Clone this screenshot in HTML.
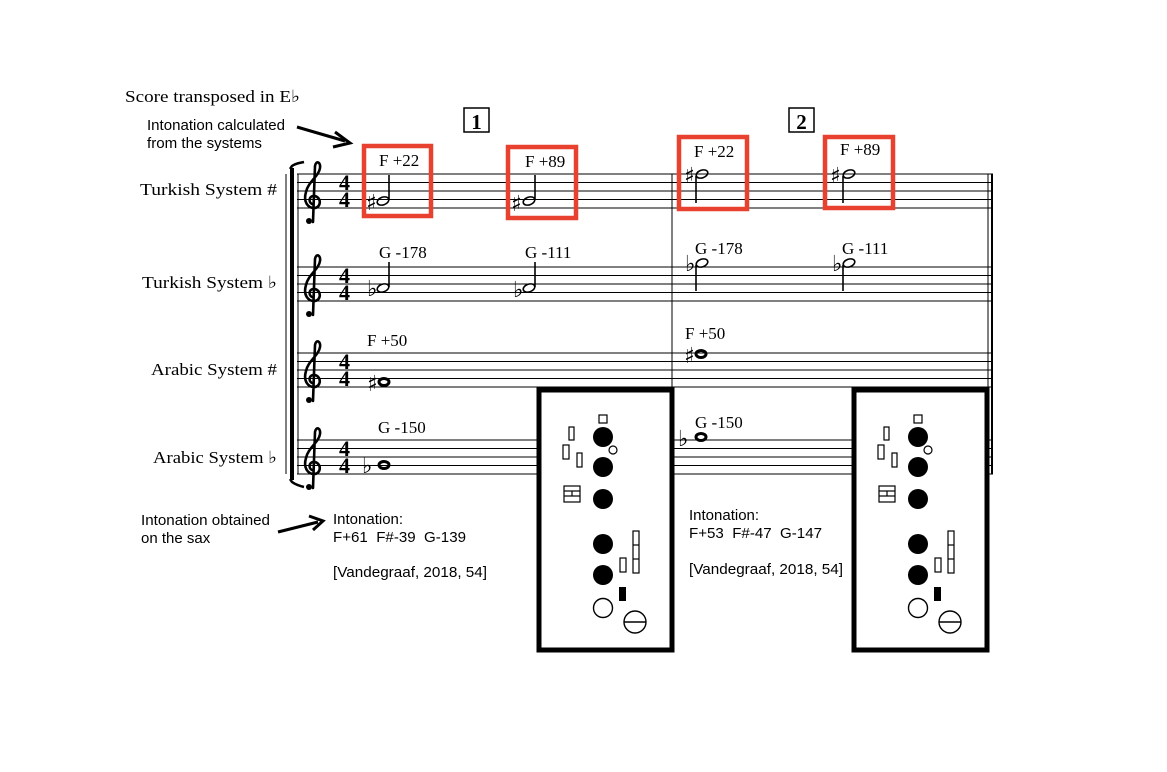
<!DOCTYPE html>
<html><head><meta charset="utf-8"><style>
html,body{margin:0;padding:0;background:#fff;}
svg{display:block;}
.s{font-family:"Liberation Serif",serif;font-size:17px;fill:#000;}
.a{font-family:"Liberation Sans",sans-serif;font-size:15px;fill:#000;white-space:pre;}
</style></head><body>
<svg width="1167" height="772" viewBox="0 0 1167 772" xmlns="http://www.w3.org/2000/svg">
<defs>
<g id="clef" fill="none" stroke="#000" stroke-linecap="round">
  <path d="M13,48 L15,-8 C16,-14 21,-12 20,-6 C19,2 8,8 6,18 C3,28 8,34 14,34 C21,34 22,24 15,22 C9,21 8,28 12,30" stroke-width="2.6"/>
  <circle cx="9" cy="47" r="3" fill="#000" stroke="none"/>
</g>
<g id="ts" font-family="Liberation Serif,serif" font-weight="bold" font-size="22" fill="#000">
  <text x="0" y="16">4</text><text x="0" y="33">4</text>
</g>
<g id="sax">
  <rect x="0" y="0" width="133" height="260" fill="#fff" stroke="#000" stroke-width="5"/>
  <rect x="60" y="25" width="8" height="8" fill="#fff" stroke="#000" stroke-width="1.2"/>
  <rect x="30" y="37" width="5" height="13" fill="#fff" stroke="#000" stroke-width="1.2"/>
  <rect x="24" y="55" width="6" height="14" fill="#fff" stroke="#000" stroke-width="1.2"/>
  <rect x="38" y="63" width="5" height="14" fill="#fff" stroke="#000" stroke-width="1.2"/>
  <circle cx="64" cy="47" r="10"/><circle cx="74" cy="60" r="4" fill="#fff" stroke="#000" stroke-width="1.2"/>
  <circle cx="64" cy="77" r="10"/><circle cx="64" cy="109" r="10"/>
  <circle cx="64" cy="154" r="10"/><circle cx="64" cy="185" r="10"/>
  <circle cx="64" cy="218" r="9.5" fill="#fff" stroke="#000" stroke-width="1.4"/>
  <circle cx="96" cy="232" r="11" fill="#fff" stroke="#000" stroke-width="1.4"/><line x1="85" y1="232" x2="107" y2="232" stroke="#000" stroke-width="1.4"/>
  <rect x="25" y="96" width="16" height="16" fill="#fff" stroke="#000" stroke-width="1.2"/>
  <line x1="25" y1="101" x2="41" y2="101" stroke="#000" stroke-width="1.2"/><line x1="25" y1="106" x2="41" y2="106" stroke="#000" stroke-width="1.2"/><line x1="33" y1="101" x2="33" y2="106" stroke="#000" stroke-width="1.2"/>
  <rect x="94" y="141" width="6" height="42" fill="#fff" stroke="#000" stroke-width="1.2"/>
  <line x1="94" y1="155" x2="100" y2="155" stroke="#000" stroke-width="1.2"/><line x1="94" y1="169" x2="100" y2="169" stroke="#000" stroke-width="1.2"/>
  <rect x="81" y="168" width="6" height="14" fill="#fff" stroke="#000" stroke-width="1.2"/>
  <rect x="80" y="197" width="7" height="14" fill="#000"/>
</g>
</defs>

<text class="s" x="125" y="102" textLength="175" lengthAdjust="spacingAndGlyphs">Score transposed in E♭</text>
<text class="a" x="147" y="130" textLength="138" lengthAdjust="spacingAndGlyphs">Intonation calculated</text>
<text class="a" x="147" y="148" textLength="115" lengthAdjust="spacingAndGlyphs">from the systems</text>
<line x1="297" y1="127" x2="345" y2="141" stroke="#000" stroke-width="3"/>
<path d="M335,132 L350,143 L333,147" fill="none" stroke="#000" stroke-width="3"/>

<rect x="464" y="108" width="25" height="24" fill="#fff" stroke="#000" stroke-width="1.5"/>
<text x="476.5" y="129" text-anchor="middle" font-family="Liberation Serif,serif" font-weight="bold" font-size="21">1</text>
<rect x="789" y="108" width="25" height="24" fill="#fff" stroke="#000" stroke-width="1.5"/>
<text x="801.5" y="129" text-anchor="middle" font-family="Liberation Serif,serif" font-weight="bold" font-size="21">2</text>

<text class="s" x="140" y="195" textLength="137" lengthAdjust="spacingAndGlyphs">Turkish System #</text>
<text class="s" x="142" y="288" textLength="135" lengthAdjust="spacingAndGlyphs">Turkish System ♭</text>
<text class="s" x="151" y="375" textLength="126" lengthAdjust="spacingAndGlyphs">Arabic System #</text>
<text class="s" x="153" y="463" textLength="124" lengthAdjust="spacingAndGlyphs">Arabic System ♭</text>

<g stroke="#000" stroke-width="1">
  <line x1="297" x2="993" y1="174" y2="174"/><line x1="297" x2="993" y1="182.5" y2="182.5"/><line x1="297" x2="993" y1="191" y2="191"/><line x1="297" x2="993" y1="199.5" y2="199.5"/><line x1="297" x2="993" y1="208" y2="208"/>
  <line x1="297" x2="993" y1="267" y2="267"/><line x1="297" x2="993" y1="275.5" y2="275.5"/><line x1="297" x2="993" y1="284" y2="284"/><line x1="297" x2="993" y1="292.5" y2="292.5"/><line x1="297" x2="993" y1="301" y2="301"/>
  <line x1="297" x2="993" y1="353" y2="353"/><line x1="297" x2="993" y1="361.5" y2="361.5"/><line x1="297" x2="993" y1="370" y2="370"/><line x1="297" x2="993" y1="378.5" y2="378.5"/><line x1="297" x2="993" y1="387" y2="387"/>
  <line x1="297" x2="993" y1="440" y2="440"/><line x1="297" x2="993" y1="448.5" y2="448.5"/><line x1="297" x2="993" y1="457" y2="457"/><line x1="297" x2="993" y1="465.5" y2="465.5"/><line x1="297" x2="993" y1="474" y2="474"/>
  <line x1="286" x2="286" y1="174" y2="474"/>
  <line x1="298" x2="298" y1="174" y2="474"/>
  <line x1="672" x2="672" y1="174" y2="474"/>
  <line x1="988" x2="988" y1="174" y2="474"/>
</g>
<line x1="992" x2="992" y1="174" y2="474" stroke="#000" stroke-width="2"/>
<line x1="292" x2="292" y1="168" y2="480" stroke="#000" stroke-width="4"/>
<path d="M290,169 L292,166 C296,163 300,163 304,162" fill="none" stroke="#000" stroke-width="2.5"/>
<path d="M290,479 L292,482 C296,485 300,486 304,487" fill="none" stroke="#000" stroke-width="2.5"/>

<use href="#clef" x="300" y="174"/><use href="#clef" x="300" y="267"/><use href="#clef" x="300" y="353"/><use href="#clef" x="300" y="440"/>
<use href="#ts" x="339" y="174"/><use href="#ts" x="339" y="267"/><use href="#ts" x="339" y="353"/><use href="#ts" x="339" y="440"/>

<g stroke="#000" fill="none" stroke-width="1.6">
  <ellipse cx="383" cy="201" rx="6" ry="3.8" transform="rotate(-20 383 201)"/><line x1="389" y1="200" x2="389" y2="175"/>
  <ellipse cx="529" cy="201" rx="6" ry="3.8" transform="rotate(-20 529 201)"/><line x1="535" y1="200" x2="535" y2="175"/>
  <ellipse cx="702" cy="174" rx="6" ry="3.8" transform="rotate(-20 702 174)"/><line x1="696" y1="176" x2="696" y2="203"/>
  <ellipse cx="849" cy="174" rx="6" ry="3.8" transform="rotate(-20 849 174)"/><line x1="843" y1="176" x2="843" y2="203"/>
  <ellipse cx="383" cy="288" rx="6" ry="3.8" transform="rotate(-20 383 288)"/><line x1="389" y1="287" x2="389" y2="262"/>
  <ellipse cx="529" cy="288" rx="6" ry="3.8" transform="rotate(-20 529 288)"/><line x1="535" y1="287" x2="535" y2="262"/>
  <ellipse cx="702" cy="263" rx="6" ry="3.8" transform="rotate(-20 702 263)"/><line x1="696" y1="265" x2="696" y2="291"/>
  <ellipse cx="849" cy="263" rx="6" ry="3.8" transform="rotate(-20 849 263)"/><line x1="843" y1="265" x2="843" y2="291"/>
</g>
<g stroke="#000" fill="none" stroke-width="3">
  <ellipse cx="384" cy="382" rx="5" ry="3.5"/><ellipse cx="701" cy="354" rx="5" ry="3.5"/>
  <ellipse cx="384" cy="465" rx="5" ry="3.5"/><ellipse cx="701" cy="437" rx="5" ry="3.5"/>
</g>
<g font-family="DejaVu Sans,sans-serif" font-size="22" fill="#000">
  <text x="366" y="210">♯</text><text x="511" y="211">♯</text><text x="684" y="183">♯</text><text x="830" y="183">♯</text>
  <text x="367" y="296">♭</text><text x="513" y="297">♭</text><text x="685" y="271">♭</text><text x="832" y="271">♭</text>
  <text x="367" y="391">♯</text><text x="684" y="363">♯</text>
  <text x="362" y="473">♭</text><text x="678" y="446">♭</text>
</g>

<text class="s" x="379" y="166">F +22</text><text class="s" x="525" y="167">F +89</text>
<text class="s" x="694" y="157">F +22</text><text class="s" x="840" y="155">F +89</text>
<text class="s" x="379" y="258">G -178</text><text class="s" x="525" y="258">G -111</text>
<text class="s" x="695" y="254">G -178</text><text class="s" x="842" y="254">G -111</text>
<text class="s" x="367" y="346">F +50</text><text class="s" x="685" y="339">F +50</text>
<text class="s" x="378" y="433">G -150</text><text class="s" x="695" y="428">G -150</text>

<g fill="none" stroke="#e8412f" stroke-width="4.5">
  <rect x="364" y="146" width="67" height="70"/>
  <rect x="508" y="147" width="68" height="71"/>
  <rect x="679" y="137" width="68" height="72"/>
  <rect x="825" y="137" width="68" height="71"/>
</g>

<use href="#sax" x="539" y="390"/>
<use href="#sax" x="854" y="390"/>

<text class="a" x="141" y="525" textLength="129" lengthAdjust="spacingAndGlyphs">Intonation obtained</text>
<text class="a" x="141" y="543">on the sax</text>
<line x1="278" y1="532" x2="318" y2="522" stroke="#000" stroke-width="3"/>
<path d="M309,516 L323,521 L313,530" fill="none" stroke="#000" stroke-width="3"/>
<text class="a" x="333" y="524">Intonation:</text>
<text class="a" x="333" y="542" textLength="133" lengthAdjust="spacingAndGlyphs">F+61&#160;&#160;F#-39&#160;&#160;G-139</text>
<text class="a" x="333" y="577" textLength="154" lengthAdjust="spacingAndGlyphs">[Vandegraaf, 2018, 54]</text>
<text class="a" x="689" y="520">Intonation:</text>
<text class="a" x="689" y="538" textLength="133" lengthAdjust="spacingAndGlyphs">F+53&#160;&#160;F#-47&#160;&#160;G-147</text>
<text class="a" x="689" y="574" textLength="154" lengthAdjust="spacingAndGlyphs">[Vandegraaf, 2018, 54]</text>
</svg>
</body></html>
